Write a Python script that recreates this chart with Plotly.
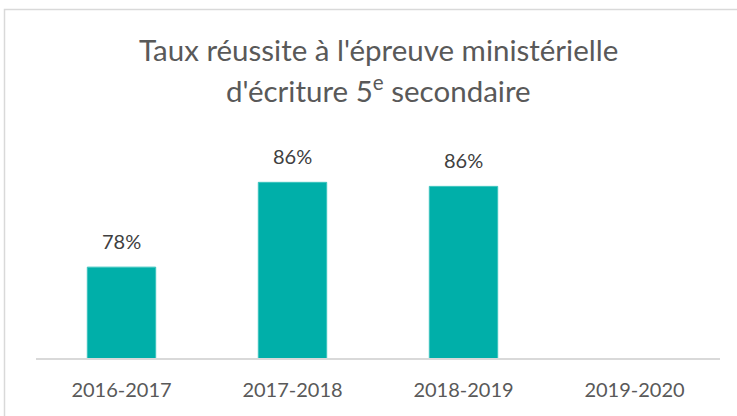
import plotly.graph_objects as go

categories = ["2016-2017", "2017-2018", "2018-2019", "2019-2020"]
taux = [78.0, 86.4, 86.0, None]
title_line1 = "Taux réussite à l'épreuve ministérielle"
title_line2 = "d'écriture 5<sup>e</sup> secondaire"

W, H = 737, 416
ml, mr, mt, mb = 36, 17, 146, 58
plot_h = H - mt - mb
plot_w = W - ml - mr

fig = go.Figure()
fig.add_trace(go.Bar(
    x=categories, y=taux,
    marker=dict(color="#00AFA9", line=dict(color="#3CC4BE", width=1)),
    hoverinfo="x+y",
))

for c, v in zip(categories, taux):
    if v is None:
        continue
    fig.add_annotation(x=c, y=v, text=f"{round(v)}%", showarrow=False,
                       yanchor="bottom", yshift=12,
                       font=dict(family="Lato", size=20, color="#404040"))

fig.add_annotation(xref="paper", yref="paper", x=0.5, y=1 + (mt - 49) / plot_h,
                   yanchor="middle", text=title_line1, showarrow=False,
                   font=dict(family="Lato", size=29.5, color="#595959"))
fig.add_annotation(xref="paper", yref="paper", x=0.5, y=1 + (mt - 89) / plot_h,
                   yanchor="middle", text=title_line2, showarrow=False,
                   font=dict(family="Lato", size=29.5, color="#595959"))

# outer chart border (light gray), partly cropped at right/bottom
fig.add_shape(type="rect", xref="paper", yref="paper",
              x0=(4.5 - ml) / plot_w, x1=(W + 20 - ml) / plot_w,
              y0=-(mb + 20) / plot_h, y1=1 + (mt - 9.5) / plot_h,
              line=dict(color="#D9D9D9", width=1.5), fillcolor="rgba(0,0,0,0)", layer="below")

fig.update_layout(
    width=W, height=H,
    margin=dict(l=ml, r=mr, t=mt, b=mb),
    paper_bgcolor="white", plot_bgcolor="white",
    bargap=0.6,
    showlegend=False,
    font=dict(family="Lato", color="#595959"),
    xaxis=dict(showline=True, linecolor="#D9D9D9", linewidth=1.5,
               ticks="outside", ticklen=13, tickcolor="rgba(0,0,0,0)",
               tickfont=dict(family="Lato", size=20, color="#595959"),
               showgrid=False, zeroline=False, fixedrange=True),
    yaxis=dict(range=[69, 90], visible=False, showgrid=False, zeroline=False, fixedrange=True),
)

fig.write_html("out.html", config={"displayModeBar": False},
               post_script="document.body.style.margin='0';")
